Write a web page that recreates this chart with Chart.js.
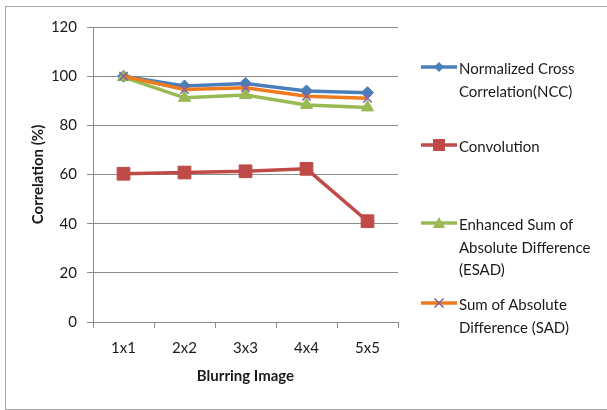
<!DOCTYPE html>
<html>
<head>
<meta charset="utf-8">
<script src="https://cdn.jsdelivr.net/npm/chart.js@4"></script>
<style>
  html, body { margin: 0; padding: 0; background: #fff; }
  #wrap { position: relative; width: 607px; height: 410px; overflow: hidden; }
  #frame { position: absolute; left: 5px; top: 6px; width: 620px; height: 404px;
           border: 1.5px solid #a6a6a6; border-right: none; box-sizing: border-box; }
  canvas { position: absolute; left: 0; top: 0; }
  .item { position: absolute; left: 420px; font: 15px Lato, sans-serif; color: #1a1a1a;
          line-height: 22.7px; }
  .item svg { position: absolute; left: 0; top: 4px; }
  .item div { margin-left: 39px; white-space: nowrap; }
</style>
</head>
<body>
<div id="wrap">
  <div id="frame"></div>
  <canvas id="chart" width="607" height="410"></canvas>
  <div id="legend"></div>
</div>
<script>
const categories = ['1x1', '2x2', '3x3', '4x4', '5x5'];
const ncc = [100, 96, 97, 94, 93.3];
const convolution = [60.3, 60.8, 61.3, 62.3, 41];
const esad = [99.6, 91.2, 92.3, 88.3, 87.3];
const sad = [100, 94.6, 95.3, 91.8, 91];

const yTicks = [0, 20, 40, 60, 80, 100, 120];

const legendItems = [
    { lines: ['Normalized Cross', 'Correlation(NCC)'], color: '#4a7ebb', marker: 'diamond', top: 57 },
    { lines: ['Convolution'], color: '#be4b48', marker: 'square', top: 135 },
    { lines: ['Enhanced Sum of', 'Absolute Difference', '(ESAD)'], color: '#98b954', marker: 'triangle', top: 213 },
    { lines: ['Sum of Absolute', 'Difference (SAD)'], color: '#f07a1e', marker: 'cross', top: 293 },
];

const gridColor = '#8c8c8c';
const font = { family: 'Lato', size: 15 };

function markerSvg(item) {
    let m = '';
    const c = item.color;
    if (item.marker === 'diamond') m = `<polygon points="19,1 24,6 19,11 14,6" fill="${c}"/>`;
    if (item.marker === 'square') m = `<rect x="13" y="0" width="12" height="12" fill="${c}"/>`;
    if (item.marker === 'triangle') m = `<polygon points="19,0 25,11 13,11" fill="${c}"/>`;
    if (item.marker === 'cross') m = `<path d="M14.5,1.5 L23.5,10.5 M23.5,1.5 L14.5,10.5" stroke="#8064a2" stroke-width="1.5"/>`;
    return `<svg width="38" height="12"><line x1="1" y1="6" x2="37" y2="6" stroke="${c}" stroke-width="3.5"/>${m}</svg>`;
}

document.getElementById('legend').innerHTML = legendItems.map(it =>
    `<div class="item" style="top:${it.top}px">${markerSvg(it)}${it.lines.map(l => `<div>${l}</div>`).join('')}</div>`
).join('');

new Chart(document.getElementById('chart').getContext('2d'), {
    type: 'line',
    data: {
        labels: categories,
        datasets: [
            {
                label: 'Normalized Cross Correlation(NCC)',
                data: ncc,
                borderColor: '#4a7ebb',
                backgroundColor: '#4a7ebb',
                pointStyle: 'rectRot',
                pointRadius: 6,
                order: 4,
            },
            {
                label: 'Convolution',
                data: convolution,
                borderColor: '#be4b48',
                backgroundColor: '#be4b48',
                pointStyle: 'rect',
                pointRadius: 9,
                order: 3,
            },
            {
                label: 'Enhanced Sum of Absolute Difference (ESAD)',
                data: esad,
                borderColor: '#98b954',
                backgroundColor: '#98b954',
                pointStyle: 'triangle',
                pointRadius: 7,
                order: 2,
            },
            {
                label: 'Sum of Absolute Difference (SAD)',
                data: sad,
                borderColor: '#f07a1e',
                backgroundColor: '#8064a2',
                pointBorderColor: '#8064a2',
                pointStyle: 'crossRot',
                pointRadius: 6,
                pointBorderWidth: 1.5,
                order: 1,
            },
        ]
    },
    options: {
        responsive: false,
        animation: false,
        elements: {
            line: { borderWidth: 3.5, tension: 0 },
            point: { borderWidth: 1 },
        },
        layout: { padding: { top: 27, right: 209, bottom: 0, left: 0 } },
        scales: {
            x: {
                type: 'category',
                offset: true,
                grid: { offset: true, drawOnChartArea: false, color: gridColor, tickLength: 6 },
                border: { color: gridColor, width: 1 },
                ticks: { color: '#1a1a1a', font: font, padding: 11, maxRotation: 0 },
                title: {
                    display: true,
                    text: 'Blurring Image',
                    color: '#1a1a1a',
                    font: { family: 'Lato', size: 15, weight: 'bold' },
                    padding: { top: 0, bottom: 25 },
                },
                afterFit: (scale) => { scale.height = 88; },
            },
            y: {
                min: 0,
                max: 120,
                afterBuildTicks: (scale) => { scale.ticks = yTicks.map(v => ({ value: v })); },
                grid: { color: gridColor, tickLength: 6 },
                border: { color: gridColor, width: 1 },
                ticks: { color: '#1a1a1a', font: font, padding: 10 },
                title: {
                    display: true,
                    text: 'Correlation (%)',
                    color: '#1a1a1a',
                    font: { family: 'Lato', size: 15, weight: 'bold' },
                    padding: { top: 29, bottom: 0 },
                },
                afterFit: (scale) => { scale.width = 93; },
            },
        },
        plugins: {
            legend: { display: false },
            tooltip: { enabled: false },
        },
    },
});
</script>
</body>
</html>
